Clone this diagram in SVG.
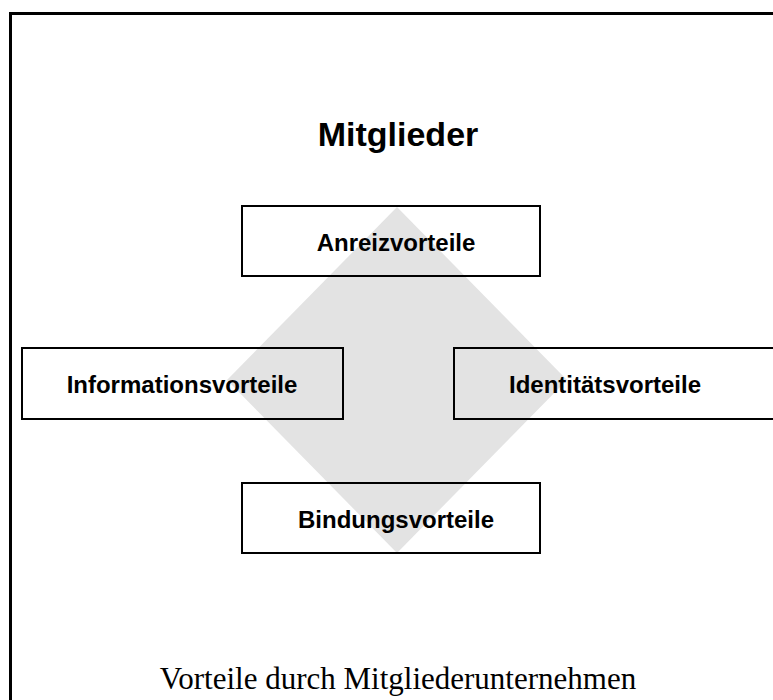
<svg xmlns="http://www.w3.org/2000/svg" width="773" height="700" viewBox="0 0 773 700">
<style>
.box{fill:none;stroke:#000;stroke-width:2}
.lbl{font-family:"Liberation Sans",Arial,sans-serif;font-weight:bold;font-size:24px;fill:#000;text-anchor:middle}
</style>
<rect x="0" y="0" width="773" height="700" fill="#fff"/>
<rect x="10.5" y="13.5" width="800" height="750" fill="none" stroke="#000" stroke-width="3"/>
<g id="diamond"><polygon points="397,207 567,380 397,553 227,380" fill="#e3e3e3"/></g>
<text x="398" y="146" font-family="Liberation Sans,Arial,sans-serif" font-weight="bold" font-size="34" text-anchor="middle">Mitglieder</text>
<g id="connectors"></g>
<g id="anreiz"><rect class="box" x="242" y="206" width="298" height="70"/><text class="lbl" x="396" y="251">Anreizvorteile</text></g>
<g id="information"><rect class="box" x="22" y="348" width="321" height="71"/><text class="lbl" x="182" y="393">Informationsvorteile</text></g>
<g id="identitaet"><rect class="box" x="454" y="348" width="340" height="71"/><text class="lbl" x="605" y="393">Identitätsvorteile</text></g>
<g id="bindung"><rect class="box" x="242" y="483" width="298" height="70"/><text class="lbl" x="396" y="528">Bindungsvorteile</text></g>
<text x="398" y="689" font-family="Liberation Serif,Times New Roman,serif" font-size="31" text-anchor="middle">Vorteile durch Mitgliederunternehmen</text>
</svg>
